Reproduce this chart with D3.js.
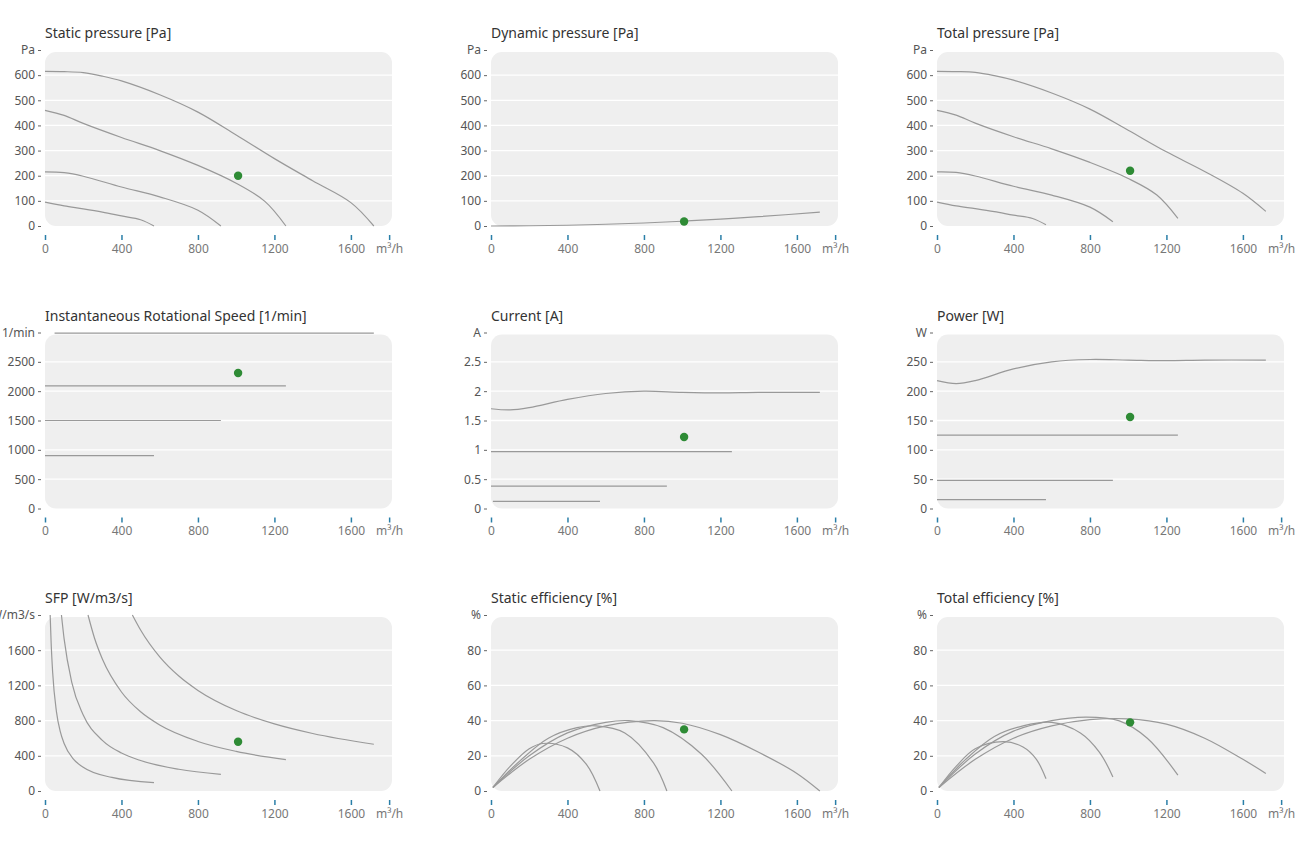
<!DOCTYPE html>
<html>
<head>
<meta charset="utf-8">
<script src="https://cdn.jsdelivr.net/npm/d3@7"></script>
<style>
  body { margin: 0; background: #fff; font-family: "Noto Sans", "Open Sans", sans-serif; }
</style>
</head>
<body>
<svg id="chart" width="1313" height="843"></svg>
<script>
// flow ticks shared by every panel
const flowTicks = [0, 400, 800, 1200, 1600, 1800];

// operating point
const opFlow = 1010;

const staticPressure = [
  [[0,615],[100,614],[200,610],[300,596],[400,577],[600,522],[800,453],[1000,362],[1200,268],[1400,180],[1600,93],[1720,0]],
  [[0,460],[100,440],[200,408],[400,352],[600,300],[800,241],[1000,170],[1150,98],[1260,0]],
  [[0,215],[100,212],[200,198],[400,155],[600,116],[800,63],[920,0]],
  [[0,95],[100,80],[200,68],[300,55],[400,40],[500,25],[570,0]]
];
const dynamicPressure = [
  [[0,0],[200,1],[400,3],[600,7],[800,12],[1000,19],[1200,27],[1400,37],[1720,55]]
];
const totalPressure = [
  [[0,615],[100,614],[200,611],[300,598],[400,580],[600,529],[800,465],[1000,381],[1200,295],[1400,217],[1600,130],[1720,58]],
  [[0,460],[100,441],[200,409],[400,355],[600,307],[800,253],[1000,189],[1150,123],[1260,30]],
  [[0,215],[100,213],[200,199],[400,158],[600,123],[800,75],[920,17]],
  [[0,95],[100,80],[200,69],[300,57],[400,43],[500,30],[570,5]]
];
const rotSpeed = [
  [[50,2990],[1720,2990]],
  [[0,2090],[1260,2090]],
  [[0,1500],[920,1500]],
  [[0,900],[570,900]]
];
const current = [
  [[0,1.7],[100,1.68],[200,1.72],[400,1.86],[600,1.96],[800,2.0],[1000,1.98],[1200,1.97],[1400,1.98],[1720,1.98]],
  [[0,0.97],[1260,0.97]],
  [[0,0.38],[920,0.38]],
  [[10,0.12],[570,0.12]]
];
const power = [
  [[0,218],[100,213],[200,218],[400,238],[600,250],[800,254],[1000,253],[1200,252],[1400,253],[1720,253]],
  [[0,125],[1260,125]],
  [[0,48],[920,48]],
  [[0,15],[570,15]]
];
const sfp = [
  [[457,2000],[500,1829],[600,1524],[700,1306],[800,1143],[1000,914],[1200,762],[1400,653],[1720,531]],
  [[225,2000],[260,1730],[300,1500],[400,1125],[500,900],[600,750],[800,563],[1000,450],[1260,357]],
  [[86,2000],[100,1728],[140,1234],[200,864],[300,576],[400,432],[500,346],[700,247],[920,188]],
  [[27,2000],[32,1690],[40,1350],[60,900],[80,675],[100,540],[150,360],[200,270],[350,154],[570,95]]
];
const staticEff = [
  [[10,2],[200,18],[400,30],[600,37],[850,40],[1000,38.5],[1200,32],[1400,22],[1600,10],[1720,0]],
  [[10,2],[200,20],[400,33],[600,39],[720,40],[900,36],[1100,21],[1260,0]],
  [[10,2],[150,17],[300,30],[450,36],[550,37],[700,33],[850,16],[920,0]],
  [[10,2],[100,14],[200,24],[270,27],[400,24.5],[500,15],[570,0]]
];
const totalEff = [
  [[10,2],[200,18],[400,30],[600,37],[800,40.5],[1000,41],[1200,38],[1400,30],[1600,18],[1720,10]],
  [[10,2],[200,21],[400,34],[600,40],[780,42],[950,40],[1100,30],[1260,9]],
  [[10,2],[150,18],[300,31],[450,37],[600,39],[750,33],[850,22],[920,8]],
  [[10,2],[100,14],[200,24],[350,28],[450,25],[520,18],[570,7]]
];

const panels = [
  {title: "Static pressure [Pa]", unit: "Pa", max: 700, ticks: [0,100,200,300,400,500,600], curves: staticPressure, op: 200},
  {title: "Dynamic pressure [Pa]", unit: "Pa", max: 700, ticks: [0,100,200,300,400,500,600], curves: dynamicPressure, op: 18},
  {title: "Total pressure [Pa]", unit: "Pa", max: 700, ticks: [0,100,200,300,400,500,600], curves: totalPressure, op: 220},
  {title: "Instantaneous Rotational Speed [1/min]", unit: "1/min", max: 3000, ticks: [0,500,1000,1500,2000,2500], curves: rotSpeed, op: 2310},
  {title: "Current [A]", unit: "A", max: 3, ticks: [0,0.5,1,1.5,2,2.5], curves: current, op: 1.22},
  {title: "Power [W]", unit: "W", max: 300, ticks: [0,50,100,150,200,250], curves: power, op: 156},
  {title: "SFP [W/m3/s]", unit: "W/m3/s", max: 2000, ticks: [0,400,800,1200,1600], curves: sfp, op: 560, mono: true},
  {title: "Static efficiency [%]", unit: "%", max: 100, ticks: [0,20,40,60,80], curves: staticEff, op: 35},
  {title: "Total efficiency [%]", unit: "%", max: 100, ticks: [0,20,40,60,80], curves: totalEff, op: 39}
];

const svg = d3.select("#chart");
const plotW = 347, plotH = 176;

panels.forEach(function(p, i) {
  const left = 45 + (i % 3) * 446;
  const bottom = 226 + Math.floor(i / 3) * 282.5;
  const g = svg.append("g").attr("transform", "translate(" + left + "," + (bottom - plotH) + ")");

  const x = d3.scaleLinear().domain([0, 1815]).range([0, plotW]);
  const y = d3.scaleLinear().domain([0, p.max]).range([plotH, 0]);

  g.append("rect")
    .attr("x", 0).attr("y", y(p.max) + 2)
    .attr("width", plotW).attr("height", plotH - y(p.max) - 2)
    .attr("rx", 11).attr("fill", "#efefef");

  g.selectAll(".grid").data(p.ticks.filter(function(t) { return t > 0; }))
    .enter().append("line")
    .attr("x1", 0).attr("x2", plotW)
    .attr("y1", function(d) { return y(d); }).attr("y2", function(d) { return y(d); })
    .attr("stroke", "#fff").attr("stroke-width", 1.3);

  // y axis
  const yTicks = p.ticks.concat([p.max]);
  const ya = g.append("g").attr("transform", "translate(-4,0)")
    .call(d3.axisLeft(y).tickValues(yTicks).tickSize(3).tickPadding(3)
      .tickFormat(function(d) { return d === p.max ? p.unit : d3.format("~g")(d); }));
  ya.select(".domain").remove();
  ya.selectAll("line").attr("stroke", "#666");
  ya.selectAll("text").attr("fill", "#555").style("font-size", "12px").style("font-family", "Noto Sans");

  // x axis
  const xa = g.append("g").attr("transform", "translate(0," + (plotH + 9) + ")")
    .call(d3.axisBottom(x).tickValues(flowTicks).tickSize(5).tickPadding(4)
      .tickFormat(function(d) { return d === 1800 ? "m³/h" : d; }));
  xa.select(".domain").remove();
  xa.selectAll("line").attr("stroke", "#2a7fa8").attr("stroke-width", 1.5);
  xa.selectAll("text").attr("fill", "#777").style("font-size", "12px").style("font-family", "Noto Sans");

  const line = d3.line()
    .x(function(d) { return x(d[0]); })
    .y(function(d) { return y(d[1]); })
    .curve(p.mono ? d3.curveMonotoneX : d3.curveCatmullRom.alpha(0.5));

  g.selectAll(".curve").data(p.curves).enter().append("path")
    .attr("d", line).attr("fill", "none")
    .attr("stroke", "#999").attr("stroke-width", 1.2);

  g.append("circle")
    .attr("cx", x(opFlow)).attr("cy", y(p.op)).attr("r", 4.2)
    .attr("fill", "#2e8b35");

  g.append("text")
    .attr("x", 0).attr("y", y(p.max) - 12)
    .attr("fill", "#333").style("font-size", "14px").style("font-family", "Noto Sans")
    .text(p.title);
});
</script>
</body>
</html>
